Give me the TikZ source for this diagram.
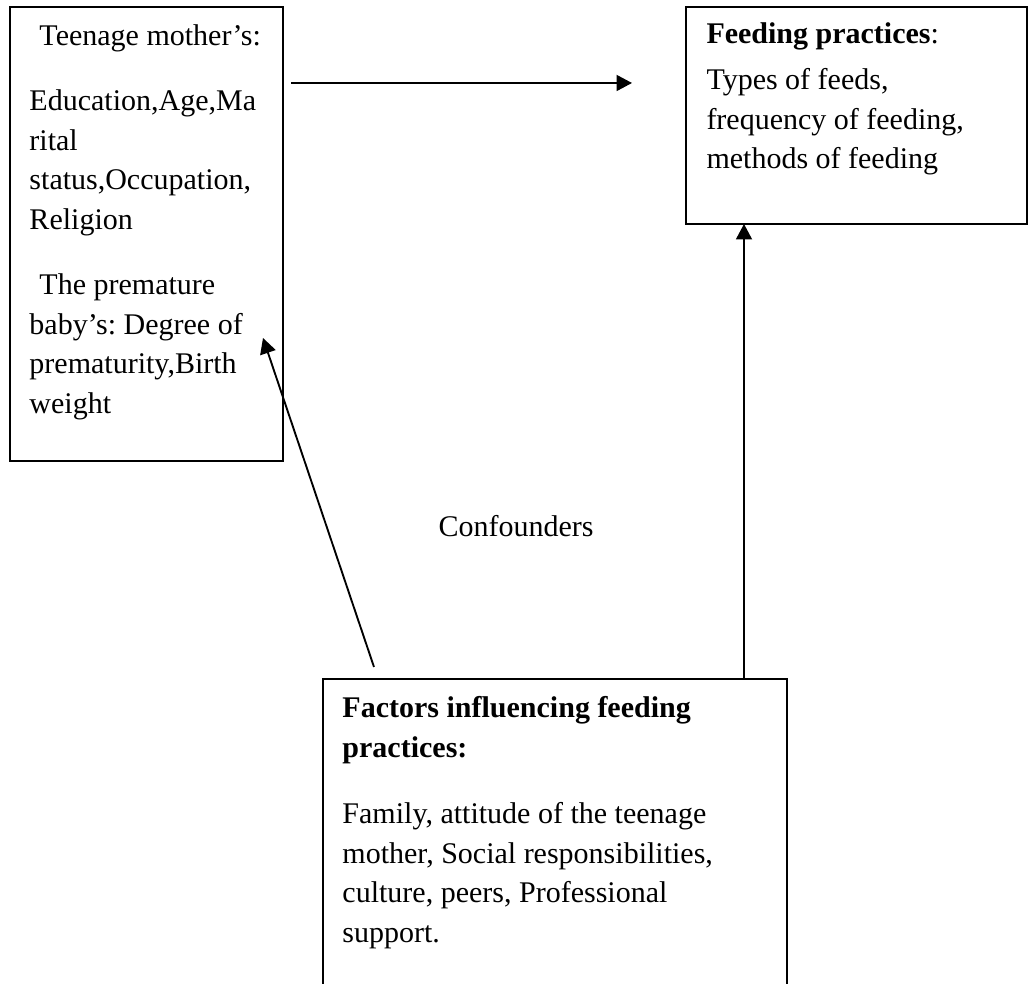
\documentclass[tikz,border=0pt]{standalone}
\usepackage{amsmath}
\usepackage{fontspec}
\setmainfont{Liberation Serif}
\usepackage{xcolor}
\usepackage{tikz}
\usetikzlibrary{arrows.meta}
\frenchspacing

\begin{document}
\begin{tikzpicture}[x=0.4pt,y=-0.4pt,
        box/.style={draw, line width=0.75pt, inner sep=0pt, outer sep=0pt},
        txt/.style={anchor=north west, inner sep=0pt, align=left, font=\fontsize{12}{15.9}\selectfont},
        arr/.style={-{Triangle[length=6.2pt,width=6.4pt]}, line width=0.75pt}]
            \path[use as bounding box, clip] (0,0) rectangle (1028,984);

            % Riquadro madre
            \node[box, minimum width=109.2pt, minimum height=181.6pt] (mother) at (146.5,234) {};
            \node[txt] (motherTxt) at ([shift={(19,10.2)}]mother.north west)
                {\strut\hspace*{4pt}Teenage mother's:\\[10pt]
                 Education,Age,Ma\\ rital\\ status,Occupation,\\ Religion\\[10pt]
                 \hspace*{4pt}The premature\\ baby's: Degree of\\ prematurity,Birth\\ weight};

            % Riquadro pratiche
            \node[box, minimum width=136.4pt, minimum height=86.8pt] (feeding) at (856.5,115.5) {};
            \node[txt] (feedingTxt) at ([shift={(20,8.2)}]feeding.north west)
                {\strut\textbf{Feeding practices}:\\[2.4pt]
                 Types of feeds,\\ frequency of feeding,\\ methods of feeding};

            % Riquadro fattori
            \node[box, minimum width=185.6pt, minimum height=132pt] (factors) at (555,844) {};
            \node[txt] (factorsTxt) at ([shift={(19,10.2)}]factors.north west)
                {\strut\textbf{Factors influencing feeding}\\ \textbf{practices:}\\[10.5pt]
                 Family, attitude of the teenage\\ mother, Social responsibilities,\\
                 culture, peers, Professional\\ support.};

            \node[txt, anchor=base west] (conf) at (438,537) {Confounders};

            % Frecce
            \draw[arr] ([shift={(8,76)}]mother.north east) -- ([shift={(-54,76)}]feeding.north west);
            \coordinate (upStart) at ([xshift=75.6pt]factors.north);
            \draw[arr] (upStart) -- (upStart |- feeding.south);
            \draw[arr] ([shift={(51,-12)}]factors.north west) -- ([shift={(-20,331)}]mother.north east);
\end{tikzpicture}
\end{document}
